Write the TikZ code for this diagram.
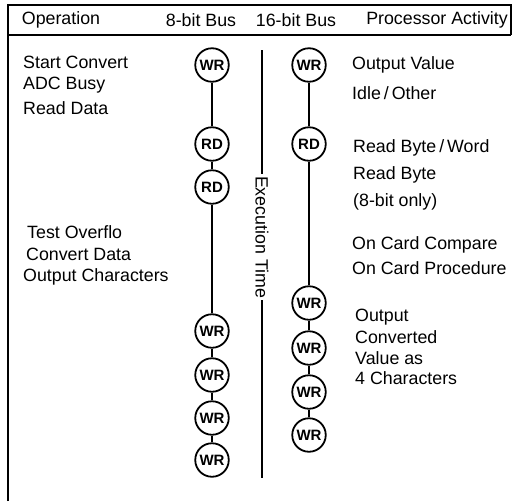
\documentclass[tikz,border=0pt]{standalone}
\usepackage{fontspec}
\setmainfont{Liberation Sans}
\begin{document}
\begin{tikzpicture}[x=1pt,y=-1pt,
  lbl/.style={anchor=west,inner sep=0pt,font=\fontsize{17.8}{20}\selectfont},
  hdr/.style={inner sep=0pt,font=\fontsize{17.8}{20}\selectfont},
  bus/.style={circle,draw,line width=1.8pt,minimum size=33.5pt,inner sep=0pt,font=\fontsize{15}{16}\selectfont\bfseries},
  conn/.style={line width=1.8pt},
  frame/.style={line width=1.6pt}]
\useasboundingbox (0,0) rectangle (513,501);
% frame
\coordinate (fbl) at (8,501);
\coordinate (ftl) at (8,5);
\coordinate (ftr) at (511,5);
\coordinate (fbr) at (511,35);
\coordinate (fml) at (8,35);
\draw[frame] (fbl) -- (ftl) -- (ftr) -- (fbr);
\draw[frame] (fml) -- (fbr);
% header
\node[hdr] (h1) at (61,20) {Operation};
\node[hdr] (h2) at (201,20) {8-bit Bus};
\node[hdr] (h3) at (296,20) {16-bit Bus};
\node[hdr] (h4) at (437,20) {Processor Activity};
% left labels
\node[lbl] (l1) at (23,62) {Start Convert};
\node[lbl] (l2) at (23,85) {ADC Busy};
\node[lbl] (l3) at (23,108) {Read Data};
\node[lbl] (l4) at (27,232) {Test Overflo};
\node[lbl] (l5) at (26,254) {Convert Data};
\node[lbl] (l6) at (23,277) {Output Characters};
% right labels
\node[lbl] (r1) at (352,65) {Output Value};
\node[lbl] (r2) at (352,93) {Idle\,/\,Other};
\node[lbl] (r3) at (353,148) {Read Byte\,/\,Word};
\node[lbl] (r4) at (353,175) {Read Byte};
\node[lbl] (r5) at (353,202) {(8-bit only)};
\node[lbl] (r6) at (352,245) {On Card Compare};
\node[lbl] (r7) at (352,268) {On Card Procedure};
\node[lbl] (r8) at (355,317) {Output};
\node[lbl] (r9) at (355,337) {Converted};
\node[lbl] (r10) at (355,358) {Value as};
\node[lbl] (r11) at (355,378) {4 Characters};
% 8-bit bus
\node[bus] (a1) at (212,65) {WR};
\node[bus] (a2) at (212,144) {RD};
\node[bus] (a3) at (212,187) {RD};
\node[bus] (a4) at (212,331) {WR};
\node[bus] (a5) at (212,375) {WR};
\node[bus] (a6) at (212,418) {WR};
\node[bus] (a7) at (212,460) {WR};
\draw[conn] (a1) -- (a2) (a2) -- (a3) (a3) -- (a4) (a4) -- (a5) (a5) -- (a6) (a6) -- (a7);
% 16-bit bus
\node[bus] (b1) at (309,65) {WR};
\node[bus] (b2) at (309,144) {RD};
\node[bus] (b3) at (309,303) {WR};
\node[bus] (b4) at (309,348) {WR};
\node[bus] (b5) at (309,392) {WR};
\node[bus] (b6) at (309,435) {WR};
\draw[conn] (b1) -- (b2) (b2) -- (b3) (b3) -- (b4) (b4) -- (b5) (b5) -- (b6);
% execution time
\coordinate (et) at (262,50);
\coordinate (eb) at (262,478);
\node[hdr,rotate=-90,inner sep=2pt] (ex) at (262,237) {Execution Time};
\draw[conn] (et) -- (ex.west);
\draw[conn] (ex.east) -- (eb);
\end{tikzpicture}
\end{document}
